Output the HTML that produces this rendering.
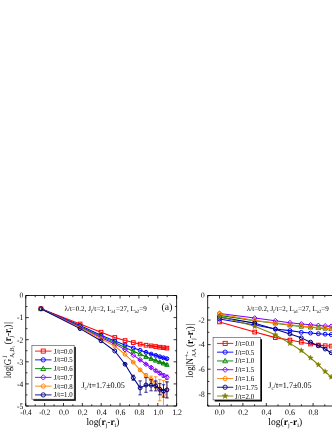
<!DOCTYPE html>
<html><head><meta charset="utf-8"><title>figure</title>
<style>html,body{margin:0;padding:0;background:#fff;}body{width:332px;height:430px;position:relative;overflow:hidden;font-family:"Liberation Serif",serif;}</style></head>
<body>
<svg width="332" height="430" viewBox="0 0 332 430" style="position:absolute;left:0;top:0;will-change:transform" font-family="Liberation Serif, serif" text-rendering="geometricPrecision">
<rect width="332" height="430" fill="#fff"/>
<path d="M176.6 295.5 H25.75 V406.0 H176.6 Z" fill="none" stroke="#000" stroke-width="0.85"/><path d="M25.75 406.0 v-3 M25.75 295.5 v3 M44.61 406.0 v-3 M44.61 295.5 v3 M63.47 406.0 v-3 M63.47 295.5 v3 M82.33 406.0 v-3 M82.33 295.5 v3 M101.19 406.0 v-3 M101.19 295.5 v3 M120.05 406.0 v-3 M120.05 295.5 v3 M138.91 406.0 v-3 M138.91 295.5 v3 M157.77 406.0 v-3 M157.77 295.5 v3 M176.63 406.0 v-3 M176.63 295.5 v3 M35.18 406.0 v-1.7 M35.18 295.5 v1.7 M54.04 406.0 v-1.7 M54.04 295.5 v1.7 M72.90 406.0 v-1.7 M72.90 295.5 v1.7 M91.76 406.0 v-1.7 M91.76 295.5 v1.7 M110.62 406.0 v-1.7 M110.62 295.5 v1.7 M129.48 406.0 v-1.7 M129.48 295.5 v1.7 M148.34 406.0 v-1.7 M148.34 295.5 v1.7 M167.20 406.0 v-1.7 M167.20 295.5 v1.7 M25.75 295.50 h3 M176.6 295.50 h-3 M25.75 317.60 h3 M176.6 317.60 h-3 M25.75 339.70 h3 M176.6 339.70 h-3 M25.75 361.80 h3 M176.6 361.80 h-3 M25.75 383.90 h3 M176.6 383.90 h-3 M25.75 406.00 h3 M176.6 406.00 h-3 M25.75 306.55 h1.7 M176.6 306.55 h-1.7 M25.75 328.65 h1.7 M176.6 328.65 h-1.7 M25.75 350.75 h1.7 M176.6 350.75 h-1.7 M25.75 372.85 h1.7 M176.6 372.85 h-1.7 M25.75 394.95 h1.7 M176.6 394.95 h-1.7 " stroke="#000" stroke-width="0.8" fill="none"/>
<text x="23.2" y="298.30" font-size="8.3" text-anchor="end" textLength="3.7" lengthAdjust="spacingAndGlyphs">0</text>
<text x="23.2" y="320.40" font-size="8.3" text-anchor="end" textLength="6.2" lengthAdjust="spacingAndGlyphs">-1</text>
<text x="23.2" y="342.50" font-size="8.3" text-anchor="end" textLength="6.2" lengthAdjust="spacingAndGlyphs">-2</text>
<text x="23.2" y="364.60" font-size="8.3" text-anchor="end" textLength="6.2" lengthAdjust="spacingAndGlyphs">-3</text>
<text x="23.2" y="386.70" font-size="8.3" text-anchor="end" textLength="6.2" lengthAdjust="spacingAndGlyphs">-4</text>
<text x="23.2" y="408.80" font-size="8.3" text-anchor="end" textLength="6.2" lengthAdjust="spacingAndGlyphs">-5</text>
<text x="20.35" y="415.2" font-size="8.3" text-anchor="start" textLength="11.2" lengthAdjust="spacingAndGlyphs">-0.4</text>
<text x="39.21" y="415.2" font-size="8.3" text-anchor="start" textLength="11.2" lengthAdjust="spacingAndGlyphs">-0.2</text>
<text x="58.97" y="415.2" font-size="8.3" text-anchor="start" textLength="9.9" lengthAdjust="spacingAndGlyphs">0.0</text>
<text x="77.83" y="415.2" font-size="8.3" text-anchor="start" textLength="9.9" lengthAdjust="spacingAndGlyphs">0.2</text>
<text x="96.69" y="415.2" font-size="8.3" text-anchor="start" textLength="9.9" lengthAdjust="spacingAndGlyphs">0.4</text>
<text x="115.55" y="415.2" font-size="8.3" text-anchor="start" textLength="9.9" lengthAdjust="spacingAndGlyphs">0.6</text>
<text x="134.41" y="415.2" font-size="8.3" text-anchor="start" textLength="9.9" lengthAdjust="spacingAndGlyphs">0.8</text>
<text x="153.27" y="415.2" font-size="8.3" text-anchor="start" textLength="9.9" lengthAdjust="spacingAndGlyphs">1.0</text>
<text x="172.13" y="415.2" font-size="8.3" text-anchor="start" textLength="9.9" lengthAdjust="spacingAndGlyphs">1.2</text>
<clipPath id="cl"><rect x="25.75" y="295.5" width="150.85" height="110.5"/></clipPath><g clip-path="url(#cl)">
<path d="M40.97 308.76 L80.08 324.01 L101.00 332.19 L114.78 337.49 L125.07 340.58 L133.29 342.57 L140.13 344.12 L145.99 345.23 L151.11 345.89 L155.67 346.55 L159.77 347.21 L163.49 347.66 L166.91 348.10" fill="none" stroke="#ff0000" stroke-width="1.05" stroke-linejoin="round"/><path d="M151.11 345.49 V346.29 M149.41 345.49 h3.4 M149.41 346.29 h3.4" stroke="#ff0000" stroke-width="0.8" fill="none"/><path d="M155.67 346.05 V347.05 M153.97 346.05 h3.4 M153.97 347.05 h3.4" stroke="#ff0000" stroke-width="0.8" fill="none"/><path d="M159.77 346.61 V347.81 M158.07 346.61 h3.4 M158.07 347.81 h3.4" stroke="#ff0000" stroke-width="0.8" fill="none"/><path d="M163.49 346.96 V348.36 M161.79 346.96 h3.4 M161.79 348.36 h3.4" stroke="#ff0000" stroke-width="0.8" fill="none"/><path d="M166.91 347.30 V348.90 M165.21 347.30 h3.4 M165.21 348.90 h3.4" stroke="#ff0000" stroke-width="0.8" fill="none"/><rect x="39.12" y="306.91" width="3.70" height="3.70" fill="none" stroke="#ff0000" stroke-width="1.0"/><rect x="78.23" y="322.16" width="3.70" height="3.70" fill="none" stroke="#ff0000" stroke-width="1.0"/><rect x="99.15" y="330.34" width="3.70" height="3.70" fill="none" stroke="#ff0000" stroke-width="1.0"/><rect x="112.93" y="335.64" width="3.70" height="3.70" fill="none" stroke="#ff0000" stroke-width="1.0"/><rect x="123.22" y="338.73" width="3.70" height="3.70" fill="none" stroke="#ff0000" stroke-width="1.0"/><rect x="131.44" y="340.72" width="3.70" height="3.70" fill="none" stroke="#ff0000" stroke-width="1.0"/><rect x="138.28" y="342.27" width="3.70" height="3.70" fill="none" stroke="#ff0000" stroke-width="1.0"/><rect x="144.14" y="343.38" width="3.70" height="3.70" fill="none" stroke="#ff0000" stroke-width="1.0"/><rect x="149.26" y="344.04" width="3.70" height="3.70" fill="none" stroke="#ff0000" stroke-width="1.0"/><rect x="153.82" y="344.70" width="3.70" height="3.70" fill="none" stroke="#ff0000" stroke-width="1.0"/><rect x="157.92" y="345.36" width="3.70" height="3.70" fill="none" stroke="#ff0000" stroke-width="1.0"/><rect x="161.64" y="345.81" width="3.70" height="3.70" fill="none" stroke="#ff0000" stroke-width="1.0"/><rect x="165.06" y="346.25" width="3.70" height="3.70" fill="none" stroke="#ff0000" stroke-width="1.0"/>
<path d="M40.97 308.76 L80.08 325.56 L101.00 335.28 L114.78 341.03 L125.07 345.00 L133.29 348.10 L140.13 350.31 L145.99 352.30 L151.11 354.06 L155.67 355.39 L159.77 356.72 L163.49 357.82 L166.91 358.71" fill="none" stroke="#0000ff" stroke-width="1.05" stroke-linejoin="round"/><path d="M145.99 351.90 V352.70 M144.29 351.90 h3.4 M144.29 352.70 h3.4" stroke="#0000ff" stroke-width="0.8" fill="none"/><path d="M151.11 353.56 V354.56 M149.41 353.56 h3.4 M149.41 354.56 h3.4" stroke="#0000ff" stroke-width="0.8" fill="none"/><path d="M155.67 354.79 V355.99 M153.97 354.79 h3.4 M153.97 355.99 h3.4" stroke="#0000ff" stroke-width="0.8" fill="none"/><path d="M159.77 356.02 V357.42 M158.07 356.02 h3.4 M158.07 357.42 h3.4" stroke="#0000ff" stroke-width="0.8" fill="none"/><path d="M163.49 357.02 V358.62 M161.79 357.02 h3.4 M161.79 358.62 h3.4" stroke="#0000ff" stroke-width="0.8" fill="none"/><path d="M166.91 357.81 V359.61 M165.21 357.81 h3.4 M165.21 359.61 h3.4" stroke="#0000ff" stroke-width="0.8" fill="none"/><circle cx="40.97" cy="308.76" r="1.94" fill="none" stroke="#0000ff" stroke-width="1.0"/><circle cx="80.08" cy="325.56" r="1.94" fill="none" stroke="#0000ff" stroke-width="1.0"/><circle cx="101.00" cy="335.28" r="1.94" fill="none" stroke="#0000ff" stroke-width="1.0"/><circle cx="114.78" cy="341.03" r="1.94" fill="none" stroke="#0000ff" stroke-width="1.0"/><circle cx="125.07" cy="345.00" r="1.94" fill="none" stroke="#0000ff" stroke-width="1.0"/><circle cx="133.29" cy="348.10" r="1.94" fill="none" stroke="#0000ff" stroke-width="1.0"/><circle cx="140.13" cy="350.31" r="1.94" fill="none" stroke="#0000ff" stroke-width="1.0"/><circle cx="145.99" cy="352.30" r="1.94" fill="none" stroke="#0000ff" stroke-width="1.0"/><circle cx="151.11" cy="354.06" r="1.94" fill="none" stroke="#0000ff" stroke-width="1.0"/><circle cx="155.67" cy="355.39" r="1.94" fill="none" stroke="#0000ff" stroke-width="1.0"/><circle cx="159.77" cy="356.72" r="1.94" fill="none" stroke="#0000ff" stroke-width="1.0"/><circle cx="163.49" cy="357.82" r="1.94" fill="none" stroke="#0000ff" stroke-width="1.0"/><circle cx="166.91" cy="358.71" r="1.94" fill="none" stroke="#0000ff" stroke-width="1.0"/>
<path d="M40.97 308.76 L80.08 326.44 L101.00 336.38 L114.78 342.57 L125.07 347.44 L133.29 351.19 L140.13 354.06 L145.99 356.72 L151.11 358.71 L155.67 360.47 L159.77 362.02 L163.49 363.35 L166.91 364.67" fill="none" stroke="#008000" stroke-width="1.05" stroke-linejoin="round"/><path d="M145.99 356.32 V357.12 M144.29 356.32 h3.4 M144.29 357.12 h3.4" stroke="#008000" stroke-width="0.8" fill="none"/><path d="M151.11 358.21 V359.21 M149.41 358.21 h3.4 M149.41 359.21 h3.4" stroke="#008000" stroke-width="0.8" fill="none"/><path d="M155.67 359.87 V361.07 M153.97 359.87 h3.4 M153.97 361.07 h3.4" stroke="#008000" stroke-width="0.8" fill="none"/><path d="M159.77 361.32 V362.72 M158.07 361.32 h3.4 M158.07 362.72 h3.4" stroke="#008000" stroke-width="0.8" fill="none"/><path d="M163.49 362.55 V364.15 M161.79 362.55 h3.4 M161.79 364.15 h3.4" stroke="#008000" stroke-width="0.8" fill="none"/><path d="M166.91 363.77 V365.57 M165.21 363.77 h3.4 M165.21 365.57 h3.4" stroke="#008000" stroke-width="0.8" fill="none"/><path d="M40.97 306.54 L43.19 310.43 L38.75 310.43 Z" fill="none" stroke="#008000" stroke-width="1.0"/><path d="M80.08 324.22 L82.30 328.11 L77.86 328.11 Z" fill="none" stroke="#008000" stroke-width="1.0"/><path d="M101.00 334.16 L103.22 338.05 L98.78 338.05 Z" fill="none" stroke="#008000" stroke-width="1.0"/><path d="M114.78 340.35 L117.00 344.24 L112.56 344.24 Z" fill="none" stroke="#008000" stroke-width="1.0"/><path d="M125.07 345.21 L127.29 349.10 L122.85 349.10 Z" fill="none" stroke="#008000" stroke-width="1.0"/><path d="M133.29 348.97 L135.51 352.86 L131.07 352.86 Z" fill="none" stroke="#008000" stroke-width="1.0"/><path d="M140.13 351.84 L142.35 355.73 L137.91 355.73 Z" fill="none" stroke="#008000" stroke-width="1.0"/><path d="M145.99 354.50 L148.21 358.38 L143.77 358.38 Z" fill="none" stroke="#008000" stroke-width="1.0"/><path d="M151.11 356.49 L153.33 360.37 L148.89 360.37 Z" fill="none" stroke="#008000" stroke-width="1.0"/><path d="M155.67 358.25 L157.89 362.14 L153.45 362.14 Z" fill="none" stroke="#008000" stroke-width="1.0"/><path d="M159.77 359.80 L161.99 363.69 L157.55 363.69 Z" fill="none" stroke="#008000" stroke-width="1.0"/><path d="M163.49 361.13 L165.71 365.01 L161.27 365.01 Z" fill="none" stroke="#008000" stroke-width="1.0"/><path d="M166.91 362.45 L169.13 366.34 L164.69 366.34 Z" fill="none" stroke="#008000" stroke-width="1.0"/>
<path d="M40.97 308.76 L80.08 327.10 L101.00 337.49 L114.78 343.90 L125.07 349.64 L133.29 355.17 L140.13 359.81 L145.99 364.23 L151.11 367.55 L155.67 370.64 L159.77 373.07 L163.49 375.50 L166.91 377.27" fill="none" stroke="#8000ff" stroke-width="1.05" stroke-linejoin="round"/><path d="M140.13 359.31 V360.31 M138.43 359.31 h3.4 M138.43 360.31 h3.4" stroke="#8000ff" stroke-width="0.8" fill="none"/><path d="M145.99 363.53 V364.93 M144.29 363.53 h3.4 M144.29 364.93 h3.4" stroke="#8000ff" stroke-width="0.8" fill="none"/><path d="M151.11 366.65 V368.45 M149.41 366.65 h3.4 M149.41 368.45 h3.4" stroke="#8000ff" stroke-width="0.8" fill="none"/><path d="M155.67 369.54 V371.74 M153.97 369.54 h3.4 M153.97 371.74 h3.4" stroke="#8000ff" stroke-width="0.8" fill="none"/><path d="M159.77 371.67 V374.47 M158.07 371.67 h3.4 M158.07 374.47 h3.4" stroke="#8000ff" stroke-width="0.8" fill="none"/><path d="M163.49 373.70 V377.30 M161.79 373.70 h3.4 M161.79 377.30 h3.4" stroke="#8000ff" stroke-width="0.8" fill="none"/><path d="M166.91 375.07 V379.47 M165.21 375.07 h3.4 M165.21 379.47 h3.4" stroke="#8000ff" stroke-width="0.8" fill="none"/><path d="M40.97 306.36 L43.38 308.76 L40.97 311.16 L38.57 308.76 Z" fill="none" stroke="#8000ff" stroke-width="1.0"/><path d="M80.08 324.70 L82.48 327.10 L80.08 329.51 L77.67 327.10 Z" fill="none" stroke="#8000ff" stroke-width="1.0"/><path d="M101.00 335.09 L103.40 337.49 L101.00 339.89 L98.59 337.49 Z" fill="none" stroke="#8000ff" stroke-width="1.0"/><path d="M114.78 341.49 L117.18 343.90 L114.78 346.30 L112.37 343.90 Z" fill="none" stroke="#8000ff" stroke-width="1.0"/><path d="M125.07 347.24 L127.47 349.64 L125.07 352.05 L122.66 349.64 Z" fill="none" stroke="#8000ff" stroke-width="1.0"/><path d="M133.29 352.77 L135.69 355.17 L133.29 357.57 L130.88 355.17 Z" fill="none" stroke="#8000ff" stroke-width="1.0"/><path d="M140.13 357.41 L142.53 359.81 L140.13 362.22 L137.72 359.81 Z" fill="none" stroke="#8000ff" stroke-width="1.0"/><path d="M145.99 361.83 L148.39 364.23 L145.99 366.64 L143.58 364.23 Z" fill="none" stroke="#8000ff" stroke-width="1.0"/><path d="M151.11 365.14 L153.52 367.55 L151.11 369.95 L148.71 367.55 Z" fill="none" stroke="#8000ff" stroke-width="1.0"/><path d="M155.67 368.24 L158.07 370.64 L155.67 373.04 L153.26 370.64 Z" fill="none" stroke="#8000ff" stroke-width="1.0"/><path d="M159.77 370.67 L162.17 373.07 L159.77 375.48 L157.36 373.07 Z" fill="none" stroke="#8000ff" stroke-width="1.0"/><path d="M163.49 373.10 L165.90 375.50 L163.49 377.91 L161.09 375.50 Z" fill="none" stroke="#8000ff" stroke-width="1.0"/><path d="M166.91 374.87 L169.31 377.27 L166.91 379.67 L164.50 377.27 Z" fill="none" stroke="#8000ff" stroke-width="1.0"/>
<path d="M40.97 308.76 L80.08 327.77 L101.00 338.82 L114.78 346.11 L125.07 354.29 L133.29 362.24 L140.13 369.98 L145.99 375.50 L151.11 379.48 L155.67 382.80 L159.77 390.09 L163.49 394.51 L166.91 389.87" fill="none" stroke="#ff8000" stroke-width="1.05" stroke-linejoin="round"/><path d="M133.29 361.74 V362.74 M131.59 361.74 h3.4 M131.59 362.74 h3.4" stroke="#ff8000" stroke-width="0.8" fill="none"/><path d="M140.13 368.98 V370.98 M138.43 368.98 h3.4 M138.43 370.98 h3.4" stroke="#ff8000" stroke-width="0.8" fill="none"/><path d="M145.99 373.50 V377.50 M144.29 373.50 h3.4 M144.29 377.50 h3.4" stroke="#ff8000" stroke-width="0.8" fill="none"/><path d="M151.11 376.18 V382.78 M149.41 376.18 h3.4 M149.41 382.78 h3.4" stroke="#ff8000" stroke-width="0.8" fill="none"/><path d="M155.67 376.80 V388.80 M153.97 376.80 h3.4 M153.97 388.80 h3.4" stroke="#ff8000" stroke-width="0.8" fill="none"/><path d="M159.77 379.39 V400.79 M158.07 379.39 h3.4 M158.07 400.79 h3.4" stroke="#ff8000" stroke-width="0.8" fill="none"/><path d="M163.49 380.51 V408.51 M161.79 380.51 h3.4 M161.79 408.51 h3.4" stroke="#ff8000" stroke-width="0.8" fill="none"/><path d="M166.91 381.87 V397.87 M165.21 381.87 h3.4 M165.21 397.87 h3.4" stroke="#ff8000" stroke-width="0.8" fill="none"/><path d="M40.97 306.63 L43.00 308.10 L42.22 310.48 L39.72 310.48 L38.95 308.10 Z" fill="none" stroke="#ff8000" stroke-width="1.0"/><path d="M80.08 325.64 L82.10 327.11 L81.33 329.49 L78.82 329.49 L78.05 327.11 Z" fill="none" stroke="#ff8000" stroke-width="1.0"/><path d="M101.00 336.69 L103.02 338.16 L102.25 340.54 L99.75 340.54 L98.97 338.16 Z" fill="none" stroke="#ff8000" stroke-width="1.0"/><path d="M114.78 343.98 L116.80 345.45 L116.03 347.83 L113.53 347.83 L112.75 345.45 Z" fill="none" stroke="#ff8000" stroke-width="1.0"/><path d="M125.07 352.16 L127.09 353.63 L126.32 356.01 L123.82 356.01 L123.04 353.63 Z" fill="none" stroke="#ff8000" stroke-width="1.0"/><path d="M133.29 360.11 L135.31 361.58 L134.54 363.96 L132.04 363.96 L131.26 361.58 Z" fill="none" stroke="#ff8000" stroke-width="1.0"/><path d="M140.13 367.85 L142.15 369.32 L141.38 371.70 L138.88 371.70 L138.10 369.32 Z" fill="none" stroke="#ff8000" stroke-width="1.0"/><path d="M145.99 373.37 L148.01 374.84 L147.24 377.22 L144.74 377.22 L143.96 374.84 Z" fill="none" stroke="#ff8000" stroke-width="1.0"/><path d="M151.11 377.35 L153.14 378.82 L152.36 381.20 L149.86 381.20 L149.09 378.82 Z" fill="none" stroke="#ff8000" stroke-width="1.0"/><path d="M155.67 380.67 L157.69 382.14 L156.92 384.52 L154.42 384.52 L153.65 382.14 Z" fill="none" stroke="#ff8000" stroke-width="1.0"/><path d="M159.77 387.96 L161.79 389.43 L161.02 391.81 L158.52 391.81 L157.74 389.43 Z" fill="none" stroke="#ff8000" stroke-width="1.0"/><path d="M163.49 392.38 L165.52 393.85 L164.74 396.23 L162.24 396.23 L161.47 393.85 Z" fill="none" stroke="#ff8000" stroke-width="1.0"/><path d="M166.91 387.74 L168.93 389.21 L168.16 391.59 L165.66 391.59 L164.89 389.21 Z" fill="none" stroke="#ff8000" stroke-width="1.0"/>
<path d="M40.97 308.76 L80.08 328.65 L101.00 340.81 L114.78 350.97 L125.07 364.23 L133.29 377.71 L140.13 387.88 L145.99 385.00 L151.11 385.23 L155.67 385.89 L159.77 389.20 L163.49 390.97 L166.91 389.87" fill="none" stroke="#000080" stroke-width="1.05" stroke-linejoin="round"/><path d="M125.07 363.63 V364.83 M123.37 363.63 h3.4 M123.37 364.83 h3.4" stroke="#000080" stroke-width="0.8" fill="none"/><path d="M133.29 375.21 V380.21 M131.59 375.21 h3.4 M131.59 380.21 h3.4" stroke="#000080" stroke-width="0.8" fill="none"/><path d="M140.13 380.88 V394.88 M138.43 380.88 h3.4 M138.43 394.88 h3.4" stroke="#000080" stroke-width="0.8" fill="none"/><path d="M145.99 377.70 V392.31 M144.29 377.70 h3.4 M144.29 392.31 h3.4" stroke="#000080" stroke-width="0.8" fill="none"/><path d="M151.11 379.63 V390.83 M149.41 379.63 h3.4 M149.41 390.83 h3.4" stroke="#000080" stroke-width="0.8" fill="none"/><path d="M155.67 380.89 V390.89 M153.97 380.89 h3.4 M153.97 390.89 h3.4" stroke="#000080" stroke-width="0.8" fill="none"/><path d="M159.77 383.60 V394.80 M158.07 383.60 h3.4 M158.07 394.80 h3.4" stroke="#000080" stroke-width="0.8" fill="none"/><path d="M163.49 384.77 V397.17 M161.79 384.77 h3.4 M161.79 397.17 h3.4" stroke="#000080" stroke-width="0.8" fill="none"/><path d="M166.91 381.87 V397.87 M165.21 381.87 h3.4 M165.21 397.87 h3.4" stroke="#000080" stroke-width="0.8" fill="none"/><circle cx="40.97" cy="308.76" r="1.94" fill="none" stroke="#000080" stroke-width="1.0"/><circle cx="80.08" cy="328.65" r="1.94" fill="none" stroke="#000080" stroke-width="1.0"/><circle cx="101.00" cy="340.81" r="1.94" fill="none" stroke="#000080" stroke-width="1.0"/><circle cx="114.78" cy="350.97" r="1.94" fill="none" stroke="#000080" stroke-width="1.0"/><circle cx="125.07" cy="364.23" r="1.94" fill="none" stroke="#000080" stroke-width="1.0"/><circle cx="133.29" cy="377.71" r="1.94" fill="none" stroke="#000080" stroke-width="1.0"/><circle cx="140.13" cy="387.88" r="1.94" fill="none" stroke="#000080" stroke-width="1.0"/><circle cx="145.99" cy="385.00" r="1.94" fill="none" stroke="#000080" stroke-width="1.0"/><circle cx="151.11" cy="385.23" r="1.94" fill="none" stroke="#000080" stroke-width="1.0"/><circle cx="155.67" cy="385.89" r="1.94" fill="none" stroke="#000080" stroke-width="1.0"/><circle cx="159.77" cy="389.20" r="1.94" fill="none" stroke="#000080" stroke-width="1.0"/><circle cx="163.49" cy="390.97" r="1.94" fill="none" stroke="#000080" stroke-width="1.0"/><circle cx="166.91" cy="389.87" r="1.94" fill="none" stroke="#000080" stroke-width="1.0"/>
</g>
<rect x="33.5" y="347.0" width="42.300000000000004" height="53.80000000000001" fill="#000"/><rect x="31.9" y="345.4" width="42.300000000000004" height="53.80000000000001" fill="#fff" stroke="#444" stroke-width="0.6"/><path d="M35.0 351.10 H51.5" stroke="#ff0000" stroke-width="0.9"/><rect x="41.20" y="349.05" width="4.10" height="4.10" fill="none" stroke="#ff0000" stroke-width="0.9"/><text x="53.8" y="353.60" font-size="7.7" text-anchor="start" textLength="18.8" lengthAdjust="spacingAndGlyphs">J/t=0.0</text><path d="M35.0 359.86 H51.5" stroke="#0000ff" stroke-width="0.9"/><circle cx="43.25" cy="359.86" r="2.15" fill="none" stroke="#0000ff" stroke-width="0.9"/><text x="53.8" y="362.36" font-size="7.7" text-anchor="start" textLength="18.8" lengthAdjust="spacingAndGlyphs">J/t=0.5</text><path d="M35.0 368.62 H51.5" stroke="#008000" stroke-width="0.9"/><path d="M43.25 366.16 L45.71 370.47 L40.79 370.47 Z" fill="none" stroke="#008000" stroke-width="0.9"/><text x="53.8" y="371.12" font-size="7.7" text-anchor="start" textLength="18.8" lengthAdjust="spacingAndGlyphs">J/t=0.6</text><path d="M35.0 377.38 H51.5" stroke="#8000ff" stroke-width="0.9"/><path d="M43.25 374.71 L45.91 377.38 L43.25 380.05 L40.59 377.38 Z" fill="none" stroke="#8000ff" stroke-width="0.9"/><text x="53.8" y="379.88" font-size="7.7" text-anchor="start" textLength="18.8" lengthAdjust="spacingAndGlyphs">J/t=0.7</text><path d="M35.0 386.14 H51.5" stroke="#ff8000" stroke-width="0.9"/><path d="M43.25 383.78 L45.49 385.41 L44.64 388.05 L41.86 388.05 L41.01 385.41 Z" fill="none" stroke="#ff8000" stroke-width="0.9"/><text x="53.8" y="388.64" font-size="7.7" text-anchor="start" textLength="18.8" lengthAdjust="spacingAndGlyphs">J/t=0.8</text><path d="M35.0 394.90 H51.5" stroke="#000080" stroke-width="0.9"/><circle cx="43.25" cy="394.90" r="2.15" fill="none" stroke="#000080" stroke-width="0.9"/><text x="53.8" y="397.40" font-size="7.7" text-anchor="start" textLength="18.8" lengthAdjust="spacingAndGlyphs">J/t=1.0</text>
<text x="64.5" y="310.8" font-size="7.3" text-anchor="start" textLength="82.2" lengthAdjust="spacingAndGlyphs">λ/t=0.2, J<tspan dy="1.7" font-size="4.8">l</tspan><tspan dy="-1.7">/t=2, L</tspan><tspan dy="1.7" font-size="4.8">a1</tspan><tspan dy="-1.7">=27, L</tspan><tspan dy="1.7" font-size="4.8">a2</tspan><tspan dy="-1.7">=9</tspan></text>
<text x="161.6" y="309.6" font-size="9.7" text-anchor="start" textLength="10.8" lengthAdjust="spacingAndGlyphs">(a)</text>
<text x="81.4" y="388.1" font-size="8.5" text-anchor="start" textLength="43.4" lengthAdjust="spacingAndGlyphs">J<tspan dy="1.8" font-size="5.6">c</tspan><tspan dy="-1.8">/t=1.7±0.05</tspan></text>
<text x="86.4" y="424.7" font-size="10.0" text-anchor="start" textLength="33.0" lengthAdjust="spacingAndGlyphs">log(<tspan font-weight="bold">r</tspan><tspan dy="2.0" font-size="6.4">j</tspan><tspan dy="-2.0">-</tspan><tspan font-weight="bold">r</tspan><tspan dy="2.0" font-size="6.4">i</tspan><tspan dy="-2.0">)</tspan></text>
<g transform="translate(10.9,378.3) rotate(-90)"><text x="0" y="0" font-size="10.3" text-anchor="start" textLength="19.6" lengthAdjust="spacingAndGlyphs">log|G</text><text x="20.4" y="-4.4" font-size="6.4" text-anchor="start">J</text><text x="20.6" y="3.0" font-size="6.2" text-anchor="start" textLength="11.3" lengthAdjust="spacingAndGlyphs">A<tspan dy="1.3" font-size="4.2">i</tspan><tspan dy="-1.3">,B</tspan><tspan dy="1.3" font-size="4.2">i</tspan></text><text x="34.0" y="0" font-size="10.3" text-anchor="start" textLength="19.8" lengthAdjust="spacingAndGlyphs">(<tspan font-weight="bold">r</tspan><tspan dy="2.0" font-size="6.4">j</tspan><tspan dy="-2.0">-</tspan><tspan font-weight="bold">r</tspan><tspan dy="2.0" font-size="6.4">i</tspan><tspan dy="-2.0">)</tspan></text><text x="54.4" y="0" font-size="10.3" text-anchor="start">|</text></g>
<path d="M340 295.5 H207.65 V406.0 H340" fill="none" stroke="#000" stroke-width="0.85"/><path d="M219.50 406.0 v-3 M219.50 295.5 v3 M242.90 406.0 v-3 M242.90 295.5 v3 M266.30 406.0 v-3 M266.30 295.5 v3 M289.70 406.0 v-3 M289.70 295.5 v3 M313.10 406.0 v-3 M313.10 295.5 v3 M207.80 406.0 v-1.7 M207.80 295.5 v1.7 M231.20 406.0 v-1.7 M231.20 295.5 v1.7 M254.60 406.0 v-1.7 M254.60 295.5 v1.7 M278.00 406.0 v-1.7 M278.00 295.5 v1.7 M301.40 406.0 v-1.7 M301.40 295.5 v1.7 M324.80 406.0 v-1.7 M324.80 295.5 v1.7 M207.65 295.50 h3 M207.65 320.06 h3 M207.65 344.62 h3 M207.65 369.18 h3 M207.65 393.74 h3 M207.65 307.78 h1.7 M207.65 332.34 h1.7 M207.65 356.90 h1.7 M207.65 381.46 h1.7 M207.65 406.02 h1.7 " stroke="#000" stroke-width="0.8" fill="none"/>
<text x="204.7" y="298.30" font-size="8.3" text-anchor="end" textLength="3.7" lengthAdjust="spacingAndGlyphs">0</text>
<text x="204.7" y="322.86" font-size="8.3" text-anchor="end" textLength="6.2" lengthAdjust="spacingAndGlyphs">-2</text>
<text x="204.7" y="347.42" font-size="8.3" text-anchor="end" textLength="6.2" lengthAdjust="spacingAndGlyphs">-4</text>
<text x="204.7" y="371.98" font-size="8.3" text-anchor="end" textLength="6.2" lengthAdjust="spacingAndGlyphs">-6</text>
<text x="204.7" y="396.54" font-size="8.3" text-anchor="end" textLength="6.2" lengthAdjust="spacingAndGlyphs">-8</text>
<text x="214.80" y="415.3" font-size="8.3" text-anchor="start" textLength="9.9" lengthAdjust="spacingAndGlyphs">0.0</text>
<text x="238.20" y="415.3" font-size="8.3" text-anchor="start" textLength="9.9" lengthAdjust="spacingAndGlyphs">0.2</text>
<text x="261.60" y="415.3" font-size="8.3" text-anchor="start" textLength="9.9" lengthAdjust="spacingAndGlyphs">0.4</text>
<text x="285.00" y="415.3" font-size="8.3" text-anchor="start" textLength="9.9" lengthAdjust="spacingAndGlyphs">0.6</text>
<text x="308.40" y="415.3" font-size="8.3" text-anchor="start" textLength="9.9" lengthAdjust="spacingAndGlyphs">0.8</text>
<path d="M219.50 321.90 L254.72 332.09 L275.32 337.62 L289.94 340.08 L301.28 342.16 L310.54 344.01 L318.38 345.11 L325.16 345.73 L331.15 346.09 L336.50 346.58" fill="none" stroke="#ff0000" stroke-width="1.05" stroke-linejoin="round"/><rect x="217.65" y="320.05" width="3.70" height="3.70" fill="none" stroke="#ff0000" stroke-width="1.0"/><rect x="252.87" y="330.24" width="3.70" height="3.70" fill="none" stroke="#ff0000" stroke-width="1.0"/><rect x="273.47" y="335.77" width="3.70" height="3.70" fill="none" stroke="#ff0000" stroke-width="1.0"/><rect x="288.09" y="338.23" width="3.70" height="3.70" fill="none" stroke="#ff0000" stroke-width="1.0"/><rect x="299.43" y="340.31" width="3.70" height="3.70" fill="none" stroke="#ff0000" stroke-width="1.0"/><rect x="308.69" y="342.16" width="3.70" height="3.70" fill="none" stroke="#ff0000" stroke-width="1.0"/><rect x="316.53" y="343.26" width="3.70" height="3.70" fill="none" stroke="#ff0000" stroke-width="1.0"/><rect x="323.31" y="343.88" width="3.70" height="3.70" fill="none" stroke="#ff0000" stroke-width="1.0"/><rect x="329.30" y="344.24" width="3.70" height="3.70" fill="none" stroke="#ff0000" stroke-width="1.0"/><rect x="334.65" y="344.73" width="3.70" height="3.70" fill="none" stroke="#ff0000" stroke-width="1.0"/>
<path d="M219.50 319.08 L254.72 324.97 L275.32 328.90 L289.94 330.62 L301.28 332.34 L310.54 333.08 L318.38 333.69 L325.16 334.18 L331.15 334.55 L336.50 334.92" fill="none" stroke="#0000ff" stroke-width="1.05" stroke-linejoin="round"/><circle cx="219.50" cy="319.08" r="1.94" fill="none" stroke="#0000ff" stroke-width="1.0"/><circle cx="254.72" cy="324.97" r="1.94" fill="none" stroke="#0000ff" stroke-width="1.0"/><circle cx="275.32" cy="328.90" r="1.94" fill="none" stroke="#0000ff" stroke-width="1.0"/><circle cx="289.94" cy="330.62" r="1.94" fill="none" stroke="#0000ff" stroke-width="1.0"/><circle cx="301.28" cy="332.34" r="1.94" fill="none" stroke="#0000ff" stroke-width="1.0"/><circle cx="310.54" cy="333.08" r="1.94" fill="none" stroke="#0000ff" stroke-width="1.0"/><circle cx="318.38" cy="333.69" r="1.94" fill="none" stroke="#0000ff" stroke-width="1.0"/><circle cx="325.16" cy="334.18" r="1.94" fill="none" stroke="#0000ff" stroke-width="1.0"/><circle cx="331.15" cy="334.55" r="1.94" fill="none" stroke="#0000ff" stroke-width="1.0"/><circle cx="336.50" cy="334.92" r="1.94" fill="none" stroke="#0000ff" stroke-width="1.0"/>
<path d="M219.50 315.39 L254.72 320.80 L275.32 323.25 L289.94 325.22 L301.28 326.45 L310.54 327.31 L318.38 327.92 L325.16 328.41 L331.15 328.90 L336.50 329.27" fill="none" stroke="#008000" stroke-width="1.05" stroke-linejoin="round"/><path d="M219.50 313.17 L221.72 317.06 L217.28 317.06 Z" fill="none" stroke="#008000" stroke-width="1.0"/><path d="M254.72 318.58 L256.94 322.46 L252.50 322.46 Z" fill="none" stroke="#008000" stroke-width="1.0"/><path d="M275.32 321.03 L277.54 324.92 L273.10 324.92 Z" fill="none" stroke="#008000" stroke-width="1.0"/><path d="M289.94 323.00 L292.16 326.88 L287.72 326.88 Z" fill="none" stroke="#008000" stroke-width="1.0"/><path d="M301.28 324.23 L303.50 328.11 L299.06 328.11 Z" fill="none" stroke="#008000" stroke-width="1.0"/><path d="M310.54 325.09 L312.76 328.97 L308.32 328.97 Z" fill="none" stroke="#008000" stroke-width="1.0"/><path d="M318.38 325.70 L320.60 329.58 L316.16 329.58 Z" fill="none" stroke="#008000" stroke-width="1.0"/><path d="M325.16 326.19 L327.38 330.08 L322.94 330.08 Z" fill="none" stroke="#008000" stroke-width="1.0"/><path d="M331.15 326.68 L333.37 330.57 L328.93 330.57 Z" fill="none" stroke="#008000" stroke-width="1.0"/><path d="M336.50 327.05 L338.72 330.94 L334.28 330.94 Z" fill="none" stroke="#008000" stroke-width="1.0"/>
<path d="M219.50 313.43 L254.72 318.10 L275.32 320.80 L289.94 322.76 L301.28 323.99 L310.54 324.85 L318.38 325.46 L325.16 325.95 L331.15 326.32 L336.50 326.57" fill="none" stroke="#8000ff" stroke-width="1.05" stroke-linejoin="round"/><path d="M219.50 311.02 L221.91 313.43 L219.50 315.83 L217.09 313.43 Z" fill="none" stroke="#8000ff" stroke-width="1.0"/><path d="M254.72 315.69 L257.13 318.10 L254.72 320.50 L252.32 318.10 Z" fill="none" stroke="#8000ff" stroke-width="1.0"/><path d="M275.32 318.39 L277.73 320.80 L275.32 323.20 L272.92 320.80 Z" fill="none" stroke="#8000ff" stroke-width="1.0"/><path d="M289.94 320.36 L292.35 322.76 L289.94 325.17 L287.54 322.76 Z" fill="none" stroke="#8000ff" stroke-width="1.0"/><path d="M301.28 321.58 L303.68 323.99 L301.28 326.39 L298.87 323.99 Z" fill="none" stroke="#8000ff" stroke-width="1.0"/><path d="M310.54 322.44 L312.95 324.85 L310.54 327.25 L308.14 324.85 Z" fill="none" stroke="#8000ff" stroke-width="1.0"/><path d="M318.38 323.06 L320.78 325.46 L318.38 327.87 L315.97 325.46 Z" fill="none" stroke="#8000ff" stroke-width="1.0"/><path d="M325.16 323.55 L327.57 325.95 L325.16 328.36 L322.76 325.95 Z" fill="none" stroke="#8000ff" stroke-width="1.0"/><path d="M331.15 323.92 L333.55 326.32 L331.15 328.73 L328.74 326.32 Z" fill="none" stroke="#8000ff" stroke-width="1.0"/><path d="M336.50 324.16 L338.90 326.57 L336.50 328.97 L334.10 326.57 Z" fill="none" stroke="#8000ff" stroke-width="1.0"/>
<path d="M219.50 313.92 L254.72 320.43 L275.32 322.88 L289.94 324.85 L301.28 326.08 L310.54 326.94 L318.38 327.55 L325.16 328.16 L331.15 328.66 L336.50 329.02" fill="none" stroke="#ff8000" stroke-width="1.05" stroke-linejoin="round"/><path d="M219.50 311.79 L221.52 313.26 L220.75 315.64 L218.25 315.64 L217.48 313.26 Z" fill="none" stroke="#ff8000" stroke-width="1.0"/><path d="M254.72 318.30 L256.74 319.77 L255.97 322.15 L253.47 322.15 L252.70 319.77 Z" fill="none" stroke="#ff8000" stroke-width="1.0"/><path d="M275.32 320.76 L277.35 322.23 L276.57 324.61 L274.07 324.61 L273.30 322.23 Z" fill="none" stroke="#ff8000" stroke-width="1.0"/><path d="M289.94 322.72 L291.96 324.19 L291.19 326.57 L288.69 326.57 L287.92 324.19 Z" fill="none" stroke="#ff8000" stroke-width="1.0"/><path d="M301.28 323.95 L303.30 325.42 L302.53 327.80 L300.03 327.80 L299.26 325.42 Z" fill="none" stroke="#ff8000" stroke-width="1.0"/><path d="M310.54 324.81 L312.57 326.28 L311.79 328.66 L309.29 328.66 L308.52 326.28 Z" fill="none" stroke="#ff8000" stroke-width="1.0"/><path d="M318.38 325.42 L320.40 326.89 L319.63 329.27 L317.13 329.27 L316.35 326.89 Z" fill="none" stroke="#ff8000" stroke-width="1.0"/><path d="M325.16 326.04 L327.18 327.51 L326.41 329.89 L323.91 329.89 L323.14 327.51 Z" fill="none" stroke="#ff8000" stroke-width="1.0"/><path d="M331.15 326.53 L333.17 328.00 L332.40 330.38 L329.90 330.38 L329.12 328.00 Z" fill="none" stroke="#ff8000" stroke-width="1.0"/><path d="M336.50 326.90 L338.52 328.37 L337.75 330.75 L335.25 330.75 L334.48 328.37 Z" fill="none" stroke="#ff8000" stroke-width="1.0"/>
<path d="M219.50 317.11 L254.72 323.13 L275.32 329.15 L289.94 333.94 L301.28 337.87 L310.54 342.16 L318.38 345.73 L325.16 349.04 L331.15 352.72 L336.50 355.67" fill="none" stroke="#000080" stroke-width="1.05" stroke-linejoin="round"/><circle cx="219.50" cy="317.11" r="1.94" fill="none" stroke="#000080" stroke-width="1.0"/><circle cx="254.72" cy="323.13" r="1.94" fill="none" stroke="#000080" stroke-width="1.0"/><circle cx="275.32" cy="329.15" r="1.94" fill="none" stroke="#000080" stroke-width="1.0"/><circle cx="289.94" cy="333.94" r="1.94" fill="none" stroke="#000080" stroke-width="1.0"/><circle cx="301.28" cy="337.87" r="1.94" fill="none" stroke="#000080" stroke-width="1.0"/><circle cx="310.54" cy="342.16" r="1.94" fill="none" stroke="#000080" stroke-width="1.0"/><circle cx="318.38" cy="345.73" r="1.94" fill="none" stroke="#000080" stroke-width="1.0"/><circle cx="325.16" cy="349.04" r="1.94" fill="none" stroke="#000080" stroke-width="1.0"/><circle cx="331.15" cy="352.72" r="1.94" fill="none" stroke="#000080" stroke-width="1.0"/><circle cx="336.50" cy="355.67" r="1.94" fill="none" stroke="#000080" stroke-width="1.0"/>
<path d="M219.50 316.13 L254.72 326.32 L275.32 334.80 L289.94 343.39 L301.28 350.51 L310.54 357.88 L318.38 364.76 L325.16 371.51 L331.15 377.04 L336.50 382.69" fill="none" stroke="#808000" stroke-width="1.05" stroke-linejoin="round"/><path d="M219.50 313.36 L220.19 315.19 L222.14 315.27 L220.61 316.49 L221.13 318.38 L219.50 317.30 L217.87 318.38 L218.39 316.49 L216.86 315.27 L218.81 315.19 Z" fill="#808000" stroke="#808000" stroke-width="0.5"/><path d="M254.72 323.55 L255.41 325.38 L257.36 325.47 L255.83 326.68 L256.35 328.57 L254.72 327.49 L253.09 328.57 L253.61 326.68 L252.08 325.47 L254.04 325.38 Z" fill="#808000" stroke="#808000" stroke-width="0.5"/><path d="M275.32 332.02 L276.01 333.85 L277.96 333.94 L276.43 335.16 L276.95 337.04 L275.32 335.96 L273.69 337.04 L274.21 335.16 L272.68 333.94 L274.64 333.85 Z" fill="#808000" stroke="#808000" stroke-width="0.5"/><path d="M289.94 340.62 L290.63 342.45 L292.58 342.53 L291.05 343.75 L291.57 345.64 L289.94 344.56 L288.31 345.64 L288.83 343.75 L287.30 342.53 L289.26 342.45 Z" fill="#808000" stroke="#808000" stroke-width="0.5"/><path d="M301.28 347.74 L301.96 349.57 L303.92 349.66 L302.39 350.87 L302.91 352.76 L301.28 351.68 L299.65 352.76 L300.17 350.87 L298.64 349.66 L300.59 349.57 Z" fill="#808000" stroke="#808000" stroke-width="0.5"/><path d="M310.54 355.11 L311.23 356.94 L313.18 357.02 L311.65 358.24 L312.17 360.13 L310.54 359.05 L308.91 360.13 L309.44 358.24 L307.90 357.02 L309.86 356.94 Z" fill="#808000" stroke="#808000" stroke-width="0.5"/><path d="M318.38 361.98 L319.06 363.82 L321.02 363.90 L319.48 365.12 L320.01 367.00 L318.38 365.92 L316.75 367.00 L317.27 365.12 L315.74 363.90 L317.69 363.82 Z" fill="#808000" stroke="#808000" stroke-width="0.5"/><path d="M325.16 368.74 L325.85 370.57 L327.80 370.66 L326.27 371.87 L326.79 373.76 L325.16 372.68 L323.53 373.76 L324.05 371.87 L322.52 370.66 L324.48 370.57 Z" fill="#808000" stroke="#808000" stroke-width="0.5"/><path d="M331.15 374.26 L331.83 376.10 L333.79 376.18 L332.25 377.40 L332.78 379.28 L331.15 378.20 L329.52 379.28 L330.04 377.40 L328.51 376.18 L330.46 376.10 Z" fill="#808000" stroke="#808000" stroke-width="0.5"/><path d="M336.50 379.91 L337.19 381.75 L339.14 381.83 L337.61 383.05 L338.13 384.93 L336.50 383.85 L334.87 384.93 L335.39 383.05 L333.86 381.83 L335.81 381.75 Z" fill="#808000" stroke="#808000" stroke-width="0.5"/>
<rect x="214.7" y="339.20000000000005" width="47.29999999999998" height="62.299999999999955" fill="#000"/><rect x="213.1" y="337.6" width="47.29999999999998" height="62.299999999999955" fill="#fff" stroke="#444" stroke-width="0.6"/><path d="M217.0 343.40 H233.3" stroke="#ff0000" stroke-width="0.9"/><rect x="223.10" y="341.35" width="4.10" height="4.10" fill="none" stroke="#ff0000" stroke-width="0.9"/><text x="235.1" y="345.90" font-size="7.7" text-anchor="start" textLength="19" lengthAdjust="spacingAndGlyphs">J/t=0.0</text><path d="M217.0 352.17 H233.3" stroke="#0000ff" stroke-width="0.9"/><circle cx="225.15" cy="352.17" r="2.15" fill="none" stroke="#0000ff" stroke-width="0.9"/><text x="235.1" y="354.67" font-size="7.7" text-anchor="start" textLength="19" lengthAdjust="spacingAndGlyphs">J/t=0.5</text><path d="M217.0 360.94 H233.3" stroke="#008000" stroke-width="0.9"/><path d="M225.15 358.48 L227.61 362.79 L222.69 362.79 Z" fill="none" stroke="#008000" stroke-width="0.9"/><text x="235.1" y="363.44" font-size="7.7" text-anchor="start" textLength="19" lengthAdjust="spacingAndGlyphs">J/t=1.0</text><path d="M217.0 369.71 H233.3" stroke="#8000ff" stroke-width="0.9"/><path d="M225.15 367.04 L227.81 369.71 L225.15 372.38 L222.49 369.71 Z" fill="none" stroke="#8000ff" stroke-width="0.9"/><text x="235.1" y="372.21" font-size="7.7" text-anchor="start" textLength="19" lengthAdjust="spacingAndGlyphs">J/t=1.5</text><path d="M217.0 378.48 H233.3" stroke="#ff8000" stroke-width="0.9"/><path d="M225.15 376.12 L227.39 377.75 L226.54 380.39 L223.76 380.39 L222.91 377.75 Z" fill="none" stroke="#ff8000" stroke-width="0.9"/><text x="235.1" y="380.98" font-size="7.7" text-anchor="start" textLength="19" lengthAdjust="spacingAndGlyphs">J/t=1.6</text><path d="M217.0 387.25 H233.3" stroke="#000080" stroke-width="0.9"/><circle cx="225.15" cy="387.25" r="2.15" fill="none" stroke="#000080" stroke-width="0.9"/><text x="235.1" y="389.75" font-size="7.7" text-anchor="start" textLength="22.6" lengthAdjust="spacingAndGlyphs">J/t=1.75</text><path d="M217.0 396.02 H233.3" stroke="#808000" stroke-width="0.9"/><path d="M225.15 392.94 L225.91 394.98 L228.07 395.07 L226.38 396.42 L226.96 398.51 L225.15 397.31 L223.34 398.51 L223.92 396.42 L222.23 395.07 L224.39 394.98 Z" fill="#808000" stroke="#808000" stroke-width="0.5"/><text x="235.1" y="398.52" font-size="7.7" text-anchor="start" textLength="19" lengthAdjust="spacingAndGlyphs">J/t=2.0</text>
<text x="246.9" y="310.8" font-size="7.3" text-anchor="start" textLength="81.8" lengthAdjust="spacingAndGlyphs">λ/t=0.2, J<tspan dy="1.7" font-size="4.8">l</tspan><tspan dy="-1.7">/t=2, L</tspan><tspan dy="1.7" font-size="4.8">a1</tspan><tspan dy="-1.7">=27, L</tspan><tspan dy="1.7" font-size="4.8">a2</tspan><tspan dy="-1.7">=9</tspan></text>
<text x="268.3" y="388.3" font-size="8.5" text-anchor="start" textLength="43.2" lengthAdjust="spacingAndGlyphs">J<tspan dy="1.8" font-size="5.6">c</tspan><tspan dy="-1.8">/t=1.7±0.05</tspan></text>
<text x="268.3" y="424.7" font-size="10.0" text-anchor="start" textLength="33.8" lengthAdjust="spacingAndGlyphs">log(<tspan font-weight="bold">r</tspan><tspan dy="2.0" font-size="6.4">j</tspan><tspan dy="-2.0">-</tspan><tspan font-weight="bold">r</tspan><tspan dy="2.0" font-size="6.4">i</tspan><tspan dy="-2.0">)</tspan></text>
<g transform="translate(192.7,377.7) rotate(-90)"><text x="0" y="0" font-size="10.3" text-anchor="start" textLength="19.6" lengthAdjust="spacingAndGlyphs">log|N</text><text x="20.0" y="-3.9" font-size="7.4" text-anchor="start" textLength="6.2" lengthAdjust="spacingAndGlyphs">+-</text><text x="20.4" y="3.2" font-size="6.2" text-anchor="start" textLength="8.8" lengthAdjust="spacingAndGlyphs">AA</text><text x="30.6" y="0" font-size="10.3" text-anchor="start" textLength="20.8" lengthAdjust="spacingAndGlyphs">(<tspan font-weight="bold">r</tspan><tspan dy="2.0" font-size="6.4">j</tspan><tspan dy="-2.0">-</tspan><tspan font-weight="bold">r</tspan><tspan dy="2.0" font-size="6.4">i</tspan><tspan dy="-2.0">)</tspan></text><text x="52.4" y="0" font-size="10.3" text-anchor="start">|</text></g>
</svg>
</body></html>
